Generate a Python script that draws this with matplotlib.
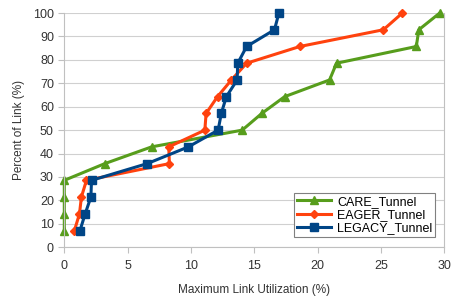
import matplotlib.pyplot as plt

plt.rcParams['font.family'] = ['Liberation Sans', 'DejaVu Sans']

pct = [7.14, 14.29, 21.43, 28.57, 35.71, 42.86, 50.0,
       57.14, 64.29, 71.43, 78.57, 85.71, 92.86, 100.0]
care = [0, 0, 0, 0, 3.2, 6.9, 14.05, 15.6, 17.4, 20.95, 21.5, 27.8, 28.0, 29.65]
eager = [0.8, 1.2, 1.35, 1.75, 8.3, 8.25, 11.1, 11.2, 12.1, 13.2, 14.4, 18.6, 25.2, 26.7]
legacy = [1.24, 1.65, 2.1, 2.15, 6.55, 9.8, 12.15, 12.4, 12.8, 13.65, 13.7, 14.4, 16.6, 16.95]

fig = plt.figure(figsize=(4.56, 3.03), dpi=100)
ax = fig.add_axes([0.141, 0.184, 0.833, 0.773])

ax.plot(care, pct, color='#579d1c', lw=2.2, marker='^', ms=6, label='CARE_Tunnel', clip_on=False)
ax.plot(eager, pct, color='#ff420e', lw=2.2, marker='D', ms=4, label='EAGER_Tunnel', clip_on=False)
ax.plot(legacy, pct, color='#004586', lw=2.2, marker='s', ms=6, label='LEGACY_Tunnel', clip_on=False)

ax.set_xlim(0, 30)
ax.set_ylim(0, 100)
ax.set_xticks(range(0, 31, 5))
ax.set_yticks(range(0, 101, 10))
ax.grid(axis='y', color='#d0d0d0', lw=0.8)
ax.set_axisbelow(True)
for s in ['left', 'right', 'bottom']:
    ax.spines[s].set_color('#c0c0c0')
ax.spines['top'].set_visible(False)
ax.tick_params(colors='#c0c0c0', labelcolor='#333333', labelsize=9, length=4)
ax.tick_params(axis='x', pad=5)

ax.set_xlabel('Maximum Link Utilization (%)', fontsize=8.5, color='#333333', labelpad=9)
ax.set_ylabel('Percent of Link (%)', fontsize=8.5, color='#333333', labelpad=6)

leg = ax.legend(loc='lower right', bbox_to_anchor=(0.975, 0.045), fontsize=9,
                fancybox=False, framealpha=1, edgecolor='#808080',
                handlelength=2.7, borderpad=0.2, labelspacing=0.1,
                handletextpad=0.5, borderaxespad=0)
leg.get_frame().set_linewidth(0.8)

fig.savefig('out.png', dpi=100)
